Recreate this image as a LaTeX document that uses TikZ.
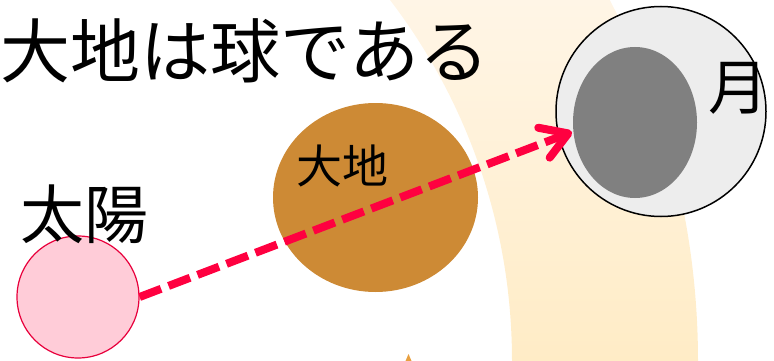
\documentclass[tikz,border=0pt]{standalone}
\usepackage{fontspec}
\usepackage{tikz}
\usetikzlibrary{arrows.meta,shapes}
\newfontfamily\jpfont{Noto Sans CJK JP}
\definecolor{sunpink}{HTML}{FFCCD8}
\definecolor{sunred}{HTML}{E8003C}
\definecolor{rayred}{HTML}{FF0040}
\definecolor{earthbrown}{HTML}{CD8A35}
\definecolor{moonlight}{HTML}{EDEDED}
\definecolor{moondark}{HTML}{808080}
\definecolor{bandtop}{HTML}{FFF5E6}
\definecolor{bandbottom}{HTML}{FFECC6}
\definecolor{tiporange}{HTML}{E8A040}
\newcommand{\jp}[1]{\jpfont\fontsize{#1}{#1}\selectfont}
\newcommand{\txtnode}{\node[inner sep=0pt]}
\newcommand{\ballnode}{\node[circle,inner sep=0pt]}
\newcommand{\eggnode}{\node[ellipse,inner sep=0pt]}

\begin{document}
\begin{tikzpicture}[x=1pt,y=-1pt]
      \useasboundingbox (0,0) rectangle (774,361);
      \begin{scope}[even odd rule] % band
        \clip (0,0) rectangle (774,361);
        \clip (-83,361) circle[radius=781] (-83,361) circle[radius=595];
        \shade[top color=bandtop,bottom color=bandbottom] (0,0) rectangle (774,361);
      \end{scope}
      \fill[tiporange] (405.5,361) -- (408.5,354) -- (411.5,361) -- cycle; %
      \eggnode[fill=earthbrown,minimum width=205pt,minimum height=189pt] (earth) at (375.5,197.5) {}; %
      \ballnode[fill=sunpink,draw=sunred,line width=1.2pt,minimum size=122pt] (sun) at (78,297) {}; %
      \ballnode[fill=moonlight,draw=black,line width=1.5pt,minimum size=210pt] (moon) at (661,111.5) {}; %
      \eggnode[fill=moondark,minimum width=124pt,minimum height=151pt] (moonshade) at (635,122.5) {}; %
      \txtnode[font=\jp{46}] (earthlbl) at (342,166) {大地};
      \txtnode[font=\jp{64}] (sunlbl) at (84,214) {太陽};
      \txtnode[font=\jp{60}] (moonlbl) at (738,88) {月};
      \txtnode[font=\jp{70},anchor=west] (title) at (0,51) {大地は球である};
      \coordinate (tip) at (572,132);
      \draw[rayred,line width=8pt,dash pattern=on 23pt off 8pt,
        -{Straight Barb[length=26pt,width=32pt,round]}] (sun.east) -- (tip);
    \end{tikzpicture}
\end{document}
